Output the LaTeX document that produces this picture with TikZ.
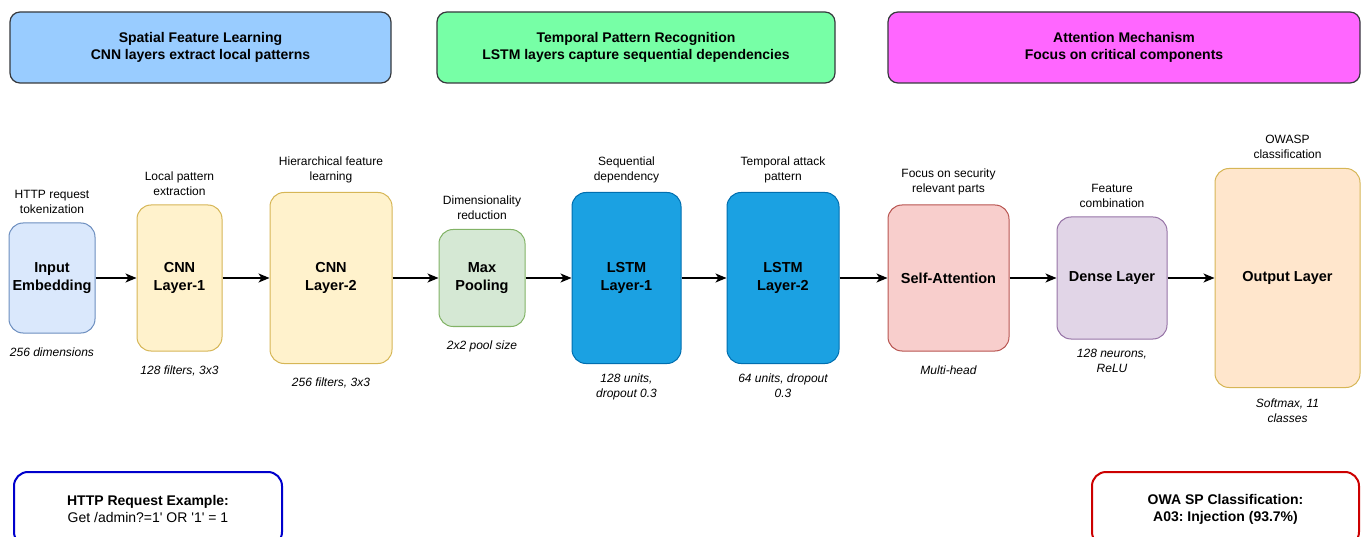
\documentclass[tikz,border=0pt]{standalone}
\usepackage{fontspec}
\setmainfont{Liberation Sans}
\usepackage{tikz}
\usetikzlibrary{arrows.meta,positioning}
\frenchspacing
\definecolor{hdrblue}{HTML}{99CCFF}
\definecolor{hdrgreen}{HTML}{77FFA6}
\definecolor{hdrpink}{HTML}{FF66FF}
\definecolor{hdrline}{HTML}{36393D}
\definecolor{embfill}{HTML}{DAE8FC}
\definecolor{embline}{HTML}{6C8EBF}
\definecolor{cnnfill}{HTML}{FFF2CC}
\definecolor{cnnline}{HTML}{D6B656}
\definecolor{poolfill}{HTML}{D5E8D4}
\definecolor{poolline}{HTML}{82B366}
\definecolor{lstmfill}{HTML}{1BA1E2}
\definecolor{lstmline}{HTML}{006EAF}
\definecolor{attfill}{HTML}{F8CECC}
\definecolor{attline}{HTML}{B85450}
\definecolor{densefill}{HTML}{E1D5E7}
\definecolor{denseline}{HTML}{9673A6}
\definecolor{outfill}{HTML}{FFE6CC}
\definecolor{outborder}{HTML}{D6B656}
\definecolor{reqline}{HTML}{0000CC}
\definecolor{resline}{HTML}{CC0000}
\tikzset{
  layer_/.style  = {shape=rectangle, draw, rounded corners=14pt, align=center,
                    line width=1pt, inner sep=2pt,
                    font=\fontsize{14.5}{17.5}\selectfont\bfseries},
  header_/.style = {shape=rectangle, draw=hdrline, rounded corners=10pt, align=center,
                    line width=1.2pt, minimum height=71pt,
                    font=\fontsize{14}{17}\selectfont\bfseries},
  note_/.style   = {align=center, inner sep=0pt, font=\fontsize{12}{15}\selectfont},
  info_/.style   = {align=center, inner sep=0pt, font=\fontsize{12}{15}\selectfont\itshape},
  box_/.style    = {shape=rectangle, draw, rounded corners=14pt, line width=2pt,
                    align=center, fill=white, minimum height=74pt,
                    font=\fontsize{14}{17}\selectfont}
}

\begin{document}
\begin{tikzpicture}
	[
	x                 = 1pt,
	y                 = -1pt,
	edge_/.style      = {draw, -{Stealth[length=11pt,width=9pt,inset=3pt]}, line width=1.4pt}
	]
	\useasboundingbox (0,0) rectangle (1368,537);
	\clip (0,0) rectangle (1368,537);

	% stage headers
	\node [header_, fill=hdrblue, minimum width=381pt] (hspatial) at (200.5,47.5)
		{Spatial Feature Learning\\CNN layers extract local patterns};
	\node [header_, fill=hdrgreen, minimum width=398pt] (htemporal) at (636,47.5)
		{Temporal Pattern Recognition\\LSTM layers capture sequential dependencies};
	\node [header_, fill=hdrpink, minimum width=472pt] (hattention) at (1124,47.5)
		{Attention Mechanism\\Focus on critical components};

	% layers
	\node [layer_, fill=embfill, draw=embline, minimum width=86pt, minimum height=110pt] (emb) at (52,278) {Input\\Embedding};
	\node [layer_, fill=cnnfill, draw=cnnline, minimum width=85pt, minimum height=146pt] (cnn1) at (179.5,278) {CNN\\Layer-1};
	\node [layer_, fill=cnnfill, draw=cnnline, minimum width=122pt, minimum height=171pt] (cnn2) at (331,278) {CNN\\Layer-2};
	\node [layer_, fill=poolfill, draw=poolline, minimum width=86pt, minimum height=97pt] (pool) at (482,278) {Max\\Pooling};
	\node [layer_, fill=lstmfill, draw=lstmline, minimum width=109pt, minimum height=171pt] (lstm1) at (626.5,278) {LSTM\\Layer-1};
	\node [layer_, fill=lstmfill, draw=lstmline, minimum width=112pt, minimum height=171pt] (lstm2) at (783,278) {LSTM\\Layer-2};
	\node [layer_, fill=attfill, draw=attline, minimum width=121pt, minimum height=146pt] (att) at (948.5,278) {Self-Attention};
	\node [layer_, fill=densefill, draw=denseline, minimum width=110pt, minimum height=122pt] (dense) at (1112,278) {Dense Layer};
	\node [layer_, fill=outfill, draw=outborder, minimum width=145pt, minimum height=219pt] (out) at (1287.5,278) {Output Layer};

	% what each layer does
	\node [note_, above=9pt of emb] (embtop) {HTTP request\\tokenization};
	\node [note_, above=9pt of cnn1] (cnn1top) {Local pattern\\extraction};
	\node [note_, above=9pt of cnn2] (cnn2top) {Hierarchical feature\\learning};
	\node [note_, above=9pt of pool] (pooltop) {Dimensionality\\reduction};
	\node [note_, above=9pt of lstm1] (lstm1top) {Sequential\\dependency};
	\node [note_, above=9pt of lstm2] (lstm2top) {Temporal attack\\pattern};
	\node [note_, above=9pt of att] (atttop) {Focus on security\\relevant parts};
	\node [note_, above=9pt of dense] (densetop) {Feature\\combination};
	\node [note_, above=9pt of out] (outtop) {OWASP\\classification};

	% layer settings
	\node [info_, below=14pt of emb] (embbot) {256 dimensions};
	\node [info_, below=14pt of cnn1] (cnn1bot) {128 filters, 3x3};
	\node [info_, below=14pt of cnn2] (cnn2bot) {256 filters, 3x3};
	\node [info_, below=14pt of pool] (poolbot) {2x2 pool size};
	\node [info_, below=10pt of lstm1] (lstm1bot) {128 units,\\dropout 0.3};
	\node [info_, below=10pt of lstm2] (lstm2bot) {64 units, dropout\\0.3};
	\node [info_, below=14pt of att] (attbot) {Multi-head};
	\node [info_, below=9pt of dense] (densebot) {128 neurons,\\ReLU};
	\node [info_, below=11pt of out] (outbot) {Softmax, 11\\classes};

	% flow
	\draw [edge_] (emb) -- (cnn1);
	\draw [edge_] (cnn1) -- (cnn2);
	\draw [edge_] (cnn2) -- (pool);
	\draw [edge_] (pool) -- (lstm1);
	\draw [edge_] (lstm1) -- (lstm2);
	\draw [edge_] (lstm2) -- (att);
	\draw [edge_] (att) -- (dense);
	\draw [edge_] (dense) -- (out);

	% example request and result
	\node [box_, draw=reqline, minimum width=268pt] (request) at (148,509)
		{\textbf{HTTP Request Example:}\\Get /admin?=1\textquotesingle{} OR \textquotesingle 1\textquotesingle{} = 1};
	\node [box_, draw=resline, minimum width=267pt, font=\fontsize{14}{17}\selectfont\bfseries] (result) at (1225.5,509)
		{OWA SP Classification:\\A03: Injection (93.7\%)};
\end{tikzpicture}
\end{document}
